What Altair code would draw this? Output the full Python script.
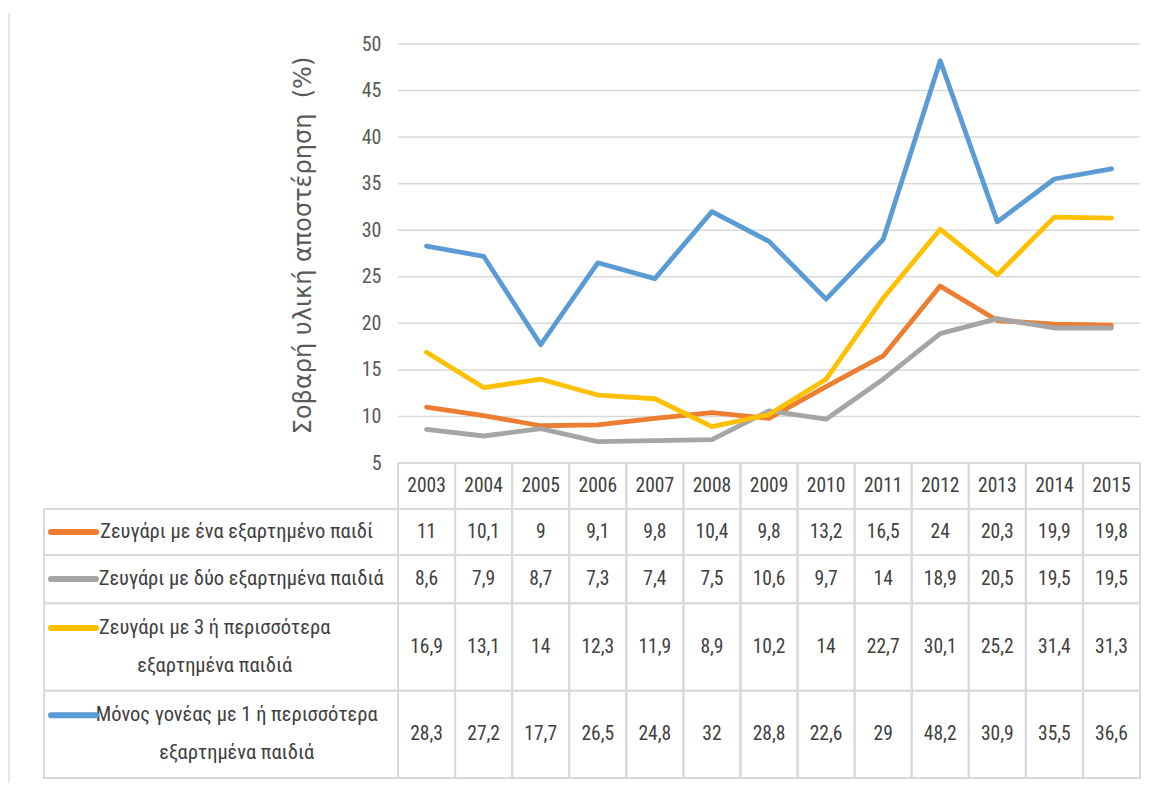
import altair as alt
import pandas as pd

# ---------------- data ----------------
years = list(range(2003, 2016))
series_names = [
    "Ζευγάρι με ένα εξαρτημένο παιδί",
    "Ζευγάρι με δύο εξαρτημένα παιδιά",
    "Ζευγάρι με 3 ή περισσότερα\nεξαρτημένα παιδιά",
    "Μόνος γονέας με 1 ή περισσότερα\nεξαρτημένα παιδιά",
]
one_child = [11, 10.1, 9, 9.1, 9.8, 10.4, 9.8, 13.2, 16.5, 24, 20.3, 19.9, 19.8]
two_children = [8.6, 7.9, 8.7, 7.3, 7.4, 7.5, 10.6, 9.7, 14, 18.9, 20.5, 19.5, 19.5]
three_plus = [16.9, 13.1, 14, 12.3, 11.9, 8.9, 10.2, 14, 22.7, 30.1, 25.2, 31.4, 31.3]
single_parent = [28.3, 27.2, 17.7, 26.5, 24.8, 32, 28.8, 22.6, 29, 48.2, 30.9, 35.5, 36.6]
series_values = [one_child, two_children, three_plus, single_parent]
colors = ["#ED7D31", "#A5A5A5", "#FFC000", "#5B9BD5"]
y_ticks = [5, 10, 15, 20, 25, 30, 35, 40, 45, 50]
y_title = "Σοβαρή υλική αποστέρηση\u00a0\u00a0(%)"

# ---------------- layout (table geometry, in scale units) ----------------
W, H = 742, 419
PX_PER_YEAR = W / 13
row_heights = [1, 1, 1.05, 1.9, 1.9]       # header row + 4 series rows
TABLE_PX = 315
LABEL_COL_LEFT = 1996.30                    # left border of legend column (year units)
SWATCH_X1, SWATCH_X2 = 1996.42, 1997.21
TEXT_X = 1997.28
LINE_H = 38
LABEL_FS = 20.5
CHAR_W = 0.43 * LABEL_FS                    # approx. average glyph advance of the condensed font

NARROW = ("Noto Sans ExtraCondensed, Noto Sans Condensed, Roboto Condensed, "
          "Liberation Sans Narrow, DejaVu Sans Condensed, sans-serif")
TXT = "#404040"
GRID = "#D9D9D9"

def fmt(v):
    return ("%g" % v).replace(".", ",")

xs = alt.Scale(domain=[2002.5, 2015.5], nice=False, zero=False)
ys = alt.Scale(domain=[5, 50], nice=False, zero=False)
total_units = sum(row_heights)
ts = alt.Scale(domain=[0, total_units], range=[H, H + TABLE_PX], nice=False, zero=False)
unit_px = TABLE_PX / total_units

bounds = [0]
for h in row_heights:
    bounds.append(bounds[-1] + h)

YAX = alt.Axis(
    values=y_ticks, grid=False, domain=False, ticks=False,
    labelPadding=17, labelFontSize=20, labelFont=NARROW, labelColor="#595959",
    title=y_title, titleFont="DejaVu Sans", titleFontSize=24, titleFontWeight="normal",
    titleColor="#595959", titlePadding=46, titleY=201)

# ---------------- plot part ----------------
grid_df = pd.DataFrame({"v": y_ticks, "x0": 2002.5, "x1": 2015.5})
grid = alt.Chart(grid_df).mark_rule(color=GRID, strokeWidth=1.5).encode(
    x=alt.X("x0:Q", scale=xs, axis=None),
    x2="x1:Q",
    y=alt.Y("v:Q", scale=ys, axis=YAX),
)

line_layers = []
for name, vals, col in zip(series_names, series_values, colors):
    df = pd.DataFrame({"year": years, "v": vals})
    line_layers.append(
        alt.Chart(df).mark_line(color=col, strokeWidth=4.8, strokeJoin="round", strokeCap="round").encode(
            x=alt.X("year:Q", scale=xs, axis=None),
            y=alt.Y("v:Q", scale=ys, axis=YAX),
        )
    )

plot = alt.layer(grid, *line_layers)

# ---------------- table part ----------------
cells = []
for yr in years:
    cells.append({"x": yr - 0.5, "x2": yr + 0.5, "y": bounds[0], "y2": bounds[1]})
for r in range(len(series_names)):
    top, bot = bounds[r + 1], bounds[r + 2]
    cells.append({"x": LABEL_COL_LEFT, "x2": 2002.5, "y": top, "y2": bot})
    for yr in years:
        cells.append({"x": yr - 0.5, "x2": yr + 0.5, "y": top, "y2": bot})
cells_df = pd.DataFrame(cells)

cell_layer = alt.Chart(cells_df).mark_rect(fill="transparent", stroke=GRID, strokeWidth=2).encode(
    x=alt.X("x:Q", scale=xs, axis=None), x2="x2:Q",
    y=alt.Y("y:Q", scale=ts, axis=None), y2="y2:Q",
)

header_df = pd.DataFrame({"year": years, "label": [str(y) for y in years],
                          "mid": (bounds[0] + bounds[1]) / 2})
header_layer = alt.Chart(header_df).mark_text(font=NARROW, fontSize=19.5, color=TXT,
                                               align="center", baseline="middle").encode(
    x=alt.X("year:Q", scale=xs, axis=None),
    y=alt.Y("mid:Q", scale=ts, axis=None),
    text="label:N",
)

vals_rows = []
label_rows = []
for r, (name, vals, col) in enumerate(zip(series_names, series_values, colors)):
    mid = (bounds[r + 1] + bounds[r + 2]) / 2
    for yr, v in zip(years, vals):
        vals_rows.append({"year": yr, "mid": mid, "txt": fmt(v)})
    lines = name.split("\n")
    widest = max(len(s) for s in lines) * CHAR_W
    label_rows.append({"name": name,
                       "tx": TEXT_X + widest / 2 / PX_PER_YEAR,
                       "sx1": SWATCH_X1, "sx2": SWATCH_X2,
                       "sy": mid - (len(lines) - 1) * LINE_H / 2 / unit_px})
vals_df = pd.DataFrame(vals_rows)
lab_df = pd.DataFrame(label_rows)

value_layer = alt.Chart(vals_df).mark_text(font=NARROW, fontSize=19.5, color=TXT,
                                           align="center", baseline="middle").encode(
    x=alt.X("year:Q", scale=xs, axis=None),
    y=alt.Y("mid:Q", scale=ts, axis=None),
    text="txt:N",
)

label_layer = alt.Chart(lab_df).mark_text(font=NARROW, fontSize=LABEL_FS, color=TXT, align="center",
                                          baseline="middle", lineBreak="\n", lineHeight=LINE_H).encode(
    x=alt.X("tx:Q", scale=xs, axis=None),
    y=alt.Y("sy:Q", scale=ts, axis=None),
    text="name:N",
)

swatch_layer = alt.Chart(lab_df).mark_rule(strokeWidth=6, strokeCap="round").encode(
    x=alt.X("sx1:Q", scale=xs, axis=None), x2="sx2:Q",
    y=alt.Y("sy:Q", scale=ts, axis=None),
    color=alt.Color("name:N", scale=alt.Scale(domain=series_names, range=colors), legend=None),
)

frame = alt.Chart(pd.DataFrame({"k": [0]})).mark_rule(color="#E6E6E6", strokeWidth=2).encode(
    x=alt.value(-389), y=alt.value(-31), y2=alt.value(H + TABLE_PX + 20),
)

table = alt.layer(cell_layer, header_layer, value_layer, label_layer, swatch_layer, frame)

chart = alt.layer(plot, table).resolve_scale(y="independent").properties(
    width=W, height=H,
    autosize=alt.AutoSizeParams(type="none"),
    padding={"left": 390, "top": 36, "right": 6, "bottom": 320},
    background="white",
).configure_view(stroke=None)

chart.save("out.html", embed_options={"renderer": "svg", "actions": False})
